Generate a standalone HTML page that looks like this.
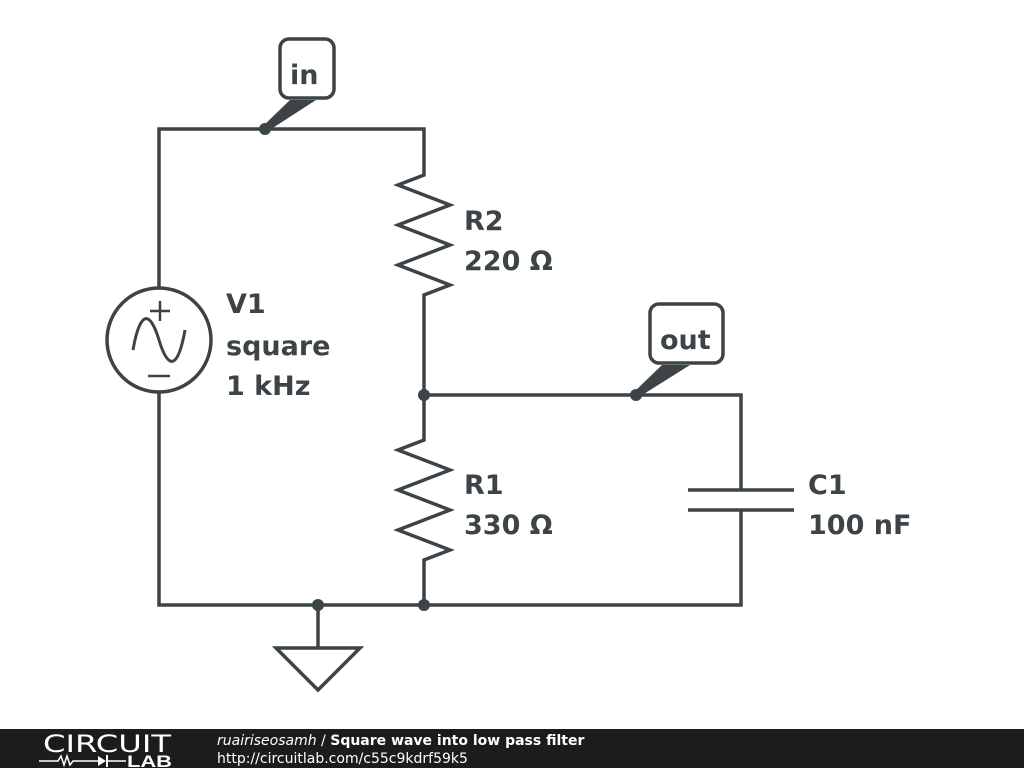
<!DOCTYPE html>
<html><head><style>
html,body{margin:0;padding:0;background:#fff;}
body{width:1024px;height:768px;position:relative;overflow:hidden;}
svg{position:absolute;left:0;top:0;}
</style></head><body>
<svg width="1024" height="768" viewBox="0 0 1024 768">
<g stroke="#3c4447" stroke-width="3.5" fill="none" stroke-linejoin="miter">
<polyline points="159,288 159,129 424,129 424,175 398,185 450,205 398,225 450,245 398,265 450,285 424,295 424,440 398,450 450,470 398,490 450,510 398,530 450,550 424,560 424,605"/>
<polyline points="159,392 159,605 741,605 741,510"/>
<polyline points="424,395 741,395 741,490"/>
<line x1="688" y1="490" x2="794" y2="490"/>
<line x1="688" y1="510" x2="794" y2="510"/>
<line x1="318" y1="605" x2="318" y2="648"/>
<polygon points="276,648 360,648 318,690"/>
<circle cx="159" cy="340" r="52"/>
<path d="M133,350 C140,310 150,310 159,340 C168,370 178,370 185,330" stroke-width="3"/>
<line x1="150" y1="311" x2="170" y2="311" stroke-width="2.5"/>
<line x1="160" y1="301" x2="160" y2="321" stroke-width="2.5"/>
<line x1="148" y1="376" x2="170" y2="376" stroke-width="2.5"/>
<rect x="280" y="39" width="54" height="59" rx="9" fill="#fff"/>
<rect x="650" y="304" width="73" height="59" rx="9" fill="#fff"/>
</g>
<g fill="#3c4447">
<polygon points="262,127 268,131 316,100 290,100"/>
<polygon points="633,393 639,397 690,365 662,365"/>
<circle cx="265" cy="129" r="6"/>
<circle cx="636" cy="395" r="6"/>
<circle cx="424" cy="395" r="6"/>
<circle cx="424" cy="605" r="6"/>
<circle cx="318" cy="605" r="6"/>
</g>
<g font-family="DejaVu Sans, sans-serif" font-weight="bold" font-size="27" fill="#3c4447">
<text x="290" y="84">in</text>
<text x="660" y="349">out</text>
<text x="464" y="230">R2</text>
<text x="464" y="270">220 Ω</text>
<text x="226" y="313">V1</text>
<text x="226" y="355">square</text>
<text x="226" y="395">1 kHz</text>
<text x="464" y="494">R1</text>
<text x="464" y="534">330 Ω</text>
<text x="808" y="494">C1</text>
<text x="808" y="534">100 nF</text>
</g>
<rect x="0" y="729" width="1024" height="39" fill="#1c1c1c"/>
<text x="43" y="752" font-family="DejaVu Sans, sans-serif" font-size="24" fill="#fff" textLength="128" lengthAdjust="spacingAndGlyphs" font-weight="normal">CIRCUIT</text>
<polyline points="39,761 58,761 61,756 64,765 67,756 70,765 73,761 98,761" stroke="#fff" stroke-width="1.5" fill="none"/>
<polygon points="98,756 98,766 106,761" fill="#fff"/>
<line x1="107" y1="755" x2="107" y2="767" stroke="#fff" stroke-width="2"/>
<line x1="107" y1="761" x2="126" y2="761" stroke="#fff" stroke-width="1.5"/>
<text x="127" y="767" font-family="Liberation Sans, sans-serif" font-weight="bold" font-size="17" fill="#fff" textLength="45" lengthAdjust="spacingAndGlyphs">LAB</text>
<text x="217" y="745" font-family="DejaVu Sans, sans-serif" font-size="14" fill="#fff"><tspan font-style="italic">ruairiseosamh</tspan> / <tspan font-weight="bold">Square wave into low pass filter</tspan></text>
<text x="217" y="763" font-family="DejaVu Sans, sans-serif" font-size="14" fill="#fff">http://circuitlab.com/c55c9kdrf59k5</text>
</svg>
</body></html>
